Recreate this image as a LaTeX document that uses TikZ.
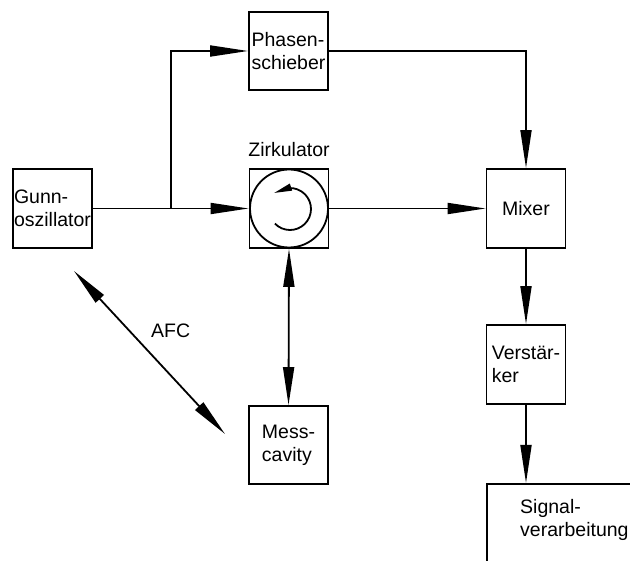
\documentclass[tikz,border=0pt]{standalone}
\usepackage{fontspec}
\setmainfont{Liberation Sans}
\usetikzlibrary{arrows.meta}
\begin{document}
\begin{tikzpicture}[x=1pt,y=-1pt,
  txt/.style={font=\fontsize{19.5}{23}\selectfont},
  box/.style={txt, draw, line width=1.8pt, minimum width=79pt, minimum height=79pt, inner sep=1pt, align=left},
  conn/.style={line width=1.8pt, -{Triangle[length=38pt,width=11pt]}},
  dconn/.style={line width=1.8pt, {Triangle[length=38pt,width=11pt]}-{Triangle[length=38pt,width=11pt]}},
  wire/.style={line width=1.8pt}]
\useasboundingbox (0,0) rectangle (630,561);
\clip (0,0) rectangle (630,561);
% boxes
\node[box] (gunn) at (52.5,208.5) {Gunn-\\oszillator};
\node[box, minimum height=78pt] (phas) at (288.5,51) {Phasen-\\schieber};
\node[box] (zirk) at (289,208.5) {};
\node[box] (mixer) at (526,208.5) {Mixer};
\node[box] (verst) at (526,364.5) {Verstär-\\ker};
\node[box, minimum height=78pt] (mess) at (288.5,445) {Mess-\\cavity};
\node[draw, line width=1.8pt, anchor=north west, minimum width=180pt, minimum height=110pt] (sig) at (486,483) {};
\node[txt, anchor=north west, inner sep=0pt, align=left] (sigtxt) at (520,499) {Signal-\\verarbeitung};
% labels
\node[txt, anchor=base] (zlab) at (289,157) {Zirkulator};
\node[txt, anchor=base west, inner sep=0pt] (afc) at (151,338) {AFC};
% circulator symbol
\draw[wire] (zirk.center) circle[radius=39];
\draw[wire] (290,209) ++(136:21) arc[start angle=136, end angle=-95, radius=21] coordinate (ae);
\draw[line width=1.8pt, -{Triangle[length=18pt,width=7pt]}] (ae) -- (274,193);
% connectors
\coordinate (junc) at (gunn.east -| 171,0);
\draw[conn] (gunn.east) -- (zirk.west);
\draw[conn] (junc) |- (phas.west);
\draw[conn] (phas.east) -| (mixer.north);
\draw[conn] (zirk.east) -- (mixer.west);
\draw[conn] (mixer.south) -- (verst.north);
\draw[conn] (verst.south) -- (verst.south |- sig.north);
\draw[dconn] (zirk.south) -- (mess.north);
\coordinate (afcA) at (74,271);
\coordinate (afcB) at (225,434);
\draw[dconn] (afcA) -- (afcB);
\end{tikzpicture}
\end{document}
